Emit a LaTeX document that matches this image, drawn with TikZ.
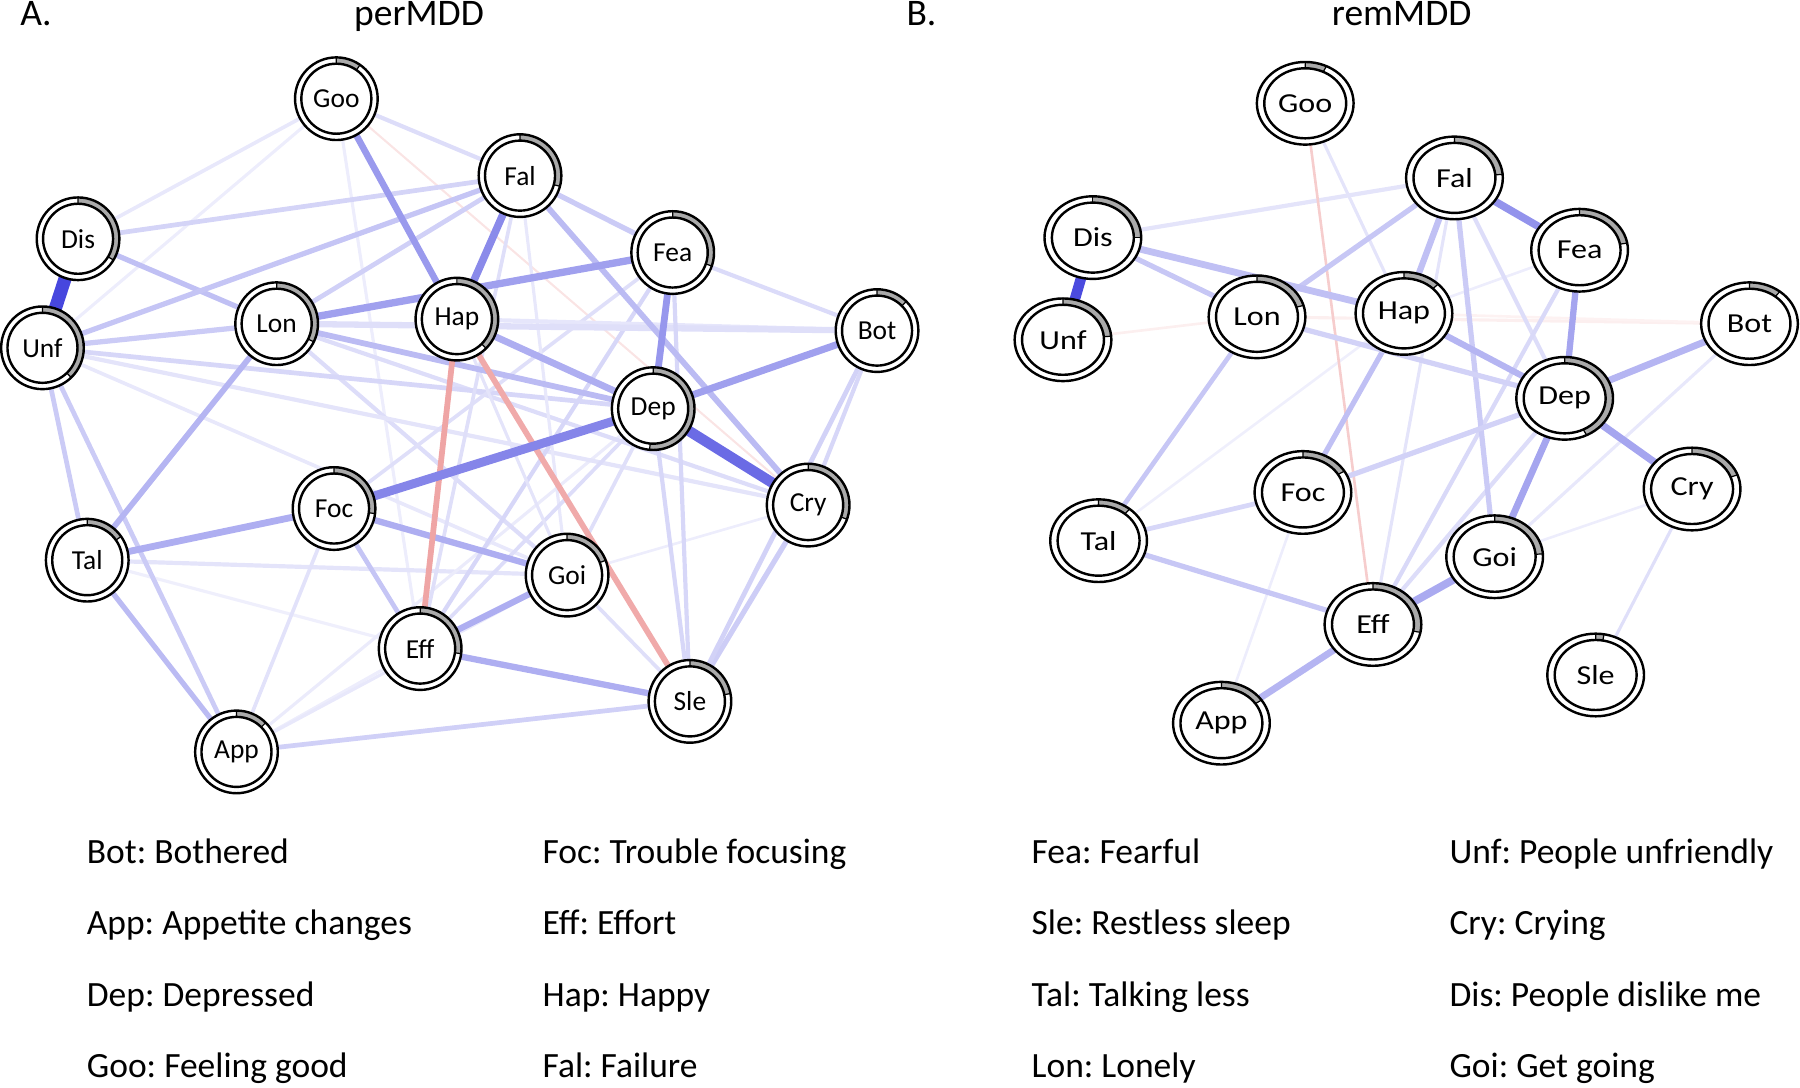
\documentclass[tikz,border=0pt]{standalone}
\usepackage{fontspec}
\setmainfont{Carlito}
\usepackage{tikz}
\usetikzlibrary{positioning,backgrounds}
\frenchspacing

\definecolor{qblue}{RGB}{30,30,215}
\definecolor{qred}{RGB}{215,30,30}
\definecolor{piegray}{RGB}{170,170,170}

\tikzset{
  ed/.style 2 args={draw=qblue!#1!white,line width={1.3*#2pt}},
  ng/.style 2 args={draw=qred!#1!white,line width={1.3*#2pt}},
  ringline/.style={draw=black,line width=0.6pt},
  symlabel/.style={inner sep=0pt,font=\fontsize{6.8}{8}\selectfont},
  legtext/.style={anchor=base west,inner sep=0pt,font=\fontsize{8.8}{10}\selectfont},
  paneltitle/.style={anchor=base,inner sep=0pt,font=\fontsize{9.3}{11}\selectfont}
}

% symptom node: name, x, y, label, pie angle, xscale
\newcommand{\symnode}[6]{%
  \begin{scope}[shift={(#2,#3)},xscale=#6]
    \fill[white] (0,0) circle (36);
    \fill[piegray] (0,0) -- (-90:36) arc[start angle=-90,end angle=-90+#5,radius=36] -- cycle;
    \fill[white] (0,0) circle (30.5);
    \draw[ringline] (0,0) circle (36) (0,0) circle (30.5);
    \draw[ringline,line width=0.3pt] (-90:30.5) -- (-90:36) (-90+#5:30.5) -- (-90+#5:36);
  \end{scope}
  \node[symlabel] (#1) at (#2,#3) {\scalebox{#6}[1]{#4}};
}

\begin{document}
\begin{tikzpicture}[x=0.1mm,y=-0.1mm]
\useasboundingbox (0,0) rectangle (1568,947);

% titles
\node[paneltitle,anchor=base west] (ta) at (17,22) {A.};
\node[paneltitle] (tperm) at (365,22) {perMDD};
\node[paneltitle,anchor=base west] (tb) at (789,22) {B.};
\node[paneltitle] (trem) at (1221,22) {remMDD};

% A: perMDD nodes
\symnode{aGoo}{293}{86}{Goo}{35}{1}
\symnode{aFal}{453}{153}{Fal}{105}{1}
\symnode{aDis}{68}{208}{Dis}{121}{1}
\symnode{aFea}{586}{220}{Fea}{109}{1}
\symnode{aUnf}{37}{303}{Unf}{136}{1}
\symnode{aLon}{241}{282}{Lon}{116}{1}
\symnode{aHap}{398}{278}{Hap}{135}{1}
\symnode{aBot}{764}{288}{Bot}{45}{1}
\symnode{aDep}{569}{356}{Dep}{185}{1}
\symnode{aFoc}{291}{443}{Foc}{97}{1}
\symnode{aCry}{704}{440}{Cry}{110}{1}
\symnode{aTal}{76}{488}{Tal}{55}{1}
\symnode{aGoi}{494}{501}{Goi}{69}{1}
\symnode{aEff}{366}{565}{Eff}{97}{1}
\symnode{aSle}{601}{611}{Sle}{79}{1}
\symnode{aApp}{206}{655}{App}{45}{1}

% B: remMDD nodes
\symnode{bGoo}{1137}{90}{Goo}{26}{1.17}
\symnode{bFal}{1267}{155}{Fal}{85}{1.17}
\symnode{bDis}{952}{207}{Dis}{90}{1.17}
\symnode{bFea}{1376}{218}{Fea}{80}{1.17}
\symnode{bUnf}{926}{296}{Unf}{85}{1.17}
\symnode{bLon}{1095}{276}{Lon}{74}{1.17}
\symnode{bHap}{1223}{273}{Hap}{45}{1.17}
\symnode{bBot}{1524}{282}{Bot}{39}{1.17}
\symnode{bDep}{1363}{347}{Dep}{153}{1.17}
\symnode{bFoc}{1135}{429}{Foc}{59}{1.17}
\symnode{bCry}{1474}{426}{Cry}{70}{1.17}
\symnode{bTal}{957}{471}{Tal}{40}{1.17}
\symnode{bGoi}{1302}{485}{Goi}{86}{1.17}
\symnode{bEff}{1196}{544}{Eff}{101}{1.17}
\symnode{bSle}{1390}{588}{Sle}{10}{1.17}
\symnode{bApp}{1064}{630}{App}{56}{1.17}

\begin{scope}[on background layer]
% A: faint edges
\draw[ed={10}{0.7}] (aGoo.center) -- (aDis.center);
\draw[ed={8}{0.6}] (aGoo.center) -- (aUnf.center);
\draw[ed={8}{0.6}] (aGoo.center) -- (aEff.center);
\draw[ed={15}{0.8}] (aGoo.center) -- (aFal.center);
\draw[ng={12}{0.4}] (aGoo.center) -- (aCry.center);
\draw[ed={12}{0.8}] (aTal.center) -- (aGoi.center);
\draw[ed={7}{0.6}] (aTal.center) -- (aEff.center);
\draw[ed={13}{0.7}] (aFoc.center) -- (aApp.center);
\draw[ed={8}{0.6}] (aApp.center) -- (aEff.center);
\draw[ed={10}{0.6}] (aApp.center) -- (aGoi.center);
\draw[ed={9}{0.6}] (aApp.center) -- (aDep.center);
\draw[ed={14}{0.7}] (aGoi.center) -- (aSle.center);
\draw[ed={8}{0.5}] (aCry.center) -- (aGoi.center);
\draw[ed={15}{0.8}] (aLon.center) -- (aGoi.center);
\draw[ed={15}{0.8}] (aLon.center) -- (aCry.center);
\draw[ed={18}{0.9}] (aUnf.center) -- (aDep.center);
\draw[ed={12}{0.8}] (aUnf.center) -- (aCry.center);
\draw[ed={10}{0.7}] (aUnf.center) -- (aGoi.center);
\draw[ed={18}{0.8}] (aFea.center) -- (aEff.center);
\draw[ed={14}{0.7}] (aFea.center) -- (aFoc.center);
\draw[ed={14}{0.7}] (aFal.center) -- (aEff.center);
\draw[ed={10}{0.6}] (aFal.center) -- (aGoi.center);
\draw[ed={14}{0.7}] (aDep.center) -- (aGoi.center);
\draw[ed={15}{0.7}] (aDep.center) -- (aEff.center);
\draw[ed={12}{0.6}] (aHap.center) -- (aGoi.center);
\draw[ed={11}{0.8}] (aHap.center) -- (aBot.center);
\draw[ed={14}{1.2}] (aLon.center) -- (aBot.center);
\draw[ed={16}{0.8}] (aFea.center) -- (aBot.center);
% A: light edges
\draw[ed={28}{1.0}] (aDis.center) -- (aLon.center);
\draw[ed={26}{1.0}] (aUnf.center) -- (aFal.center);
\draw[ed={23}{1.0}] (aUnf.center) -- (aLon.center);
\draw[ed={23}{1.0}] (aFal.center) -- (aFea.center);
\draw[ed={21}{0.9}] (aFal.center) -- (aLon.center);
\draw[ed={19}{0.9}] (aDis.center) -- (aFal.center);
\draw[ed={23}{0.9}] (aUnf.center) -- (aTal.center);
\draw[ed={23}{0.9}] (aUnf.center) -- (aApp.center);
\draw[ed={21}{0.9}] (aApp.center) -- (aSle.center);
\draw[ed={26}{0.9}] (aFoc.center) -- (aEff.center);
\draw[ed={22}{1.0}] (aCry.center) -- (aSle.center);
\draw[ed={20}{0.9}] (aBot.center) -- (aSle.center);
\draw[ed={18}{0.8}] (aBot.center) -- (aCry.center);
\draw[ed={18}{0.8}] (aDep.center) -- (aSle.center);
\draw[ed={18}{0.8}] (aFea.center) -- (aSle.center);
% A: strong edges
\draw[ed={33}{1.1}] (aLon.center) -- (aTal.center);
\draw[ed={30}{1.1}] (aLon.center) -- (aDep.center);
\draw[ed={30}{1.1}] (aFal.center) -- (aCry.center);
\draw[ed={30}{1.0}] (aTal.center) -- (aApp.center);
\draw[ed={36}{1.3}] (aHap.center) -- (aDep.center);
\draw[ed={36}{1.3}] (aTal.center) -- (aFoc.center);
\draw[ed={36}{1.2}] (aFoc.center) -- (aGoi.center);
\draw[ed={36}{1.2}] (aEff.center) -- (aGoi.center);
\draw[ed={36}{1.2}] (aEff.center) -- (aSle.center);
\draw[ng={40}{1.1}] (aHap.center) -- (aEff.center);
\draw[ng={38}{1.1}] (aHap.center) -- (aSle.center);
\draw[ed={45}{1.25}] (aGoo.center) -- (aHap.center);
\draw[ed={46}{1.3}] (aFea.center) -- (aDep.center);
\draw[ed={42}{1.35}] (aDep.center) -- (aBot.center);
\draw[ed={42}{1.4}] (aLon.center) -- (aFea.center);
\draw[ed={52}{1.45}] (aFal.center) -- (aHap.center);
\draw[ed={54}{1.7}] (aFoc.center) -- (aDep.center);
\draw[ed={66}{2.0}] (aDep.center) -- (aCry.center);
\draw[ed={82}{2.5}] (aDis.center) -- (aUnf.center);

% B: faint edges
\draw[ed={8}{0.5}] (bFoc.center) -- (bApp.center);
\draw[ed={8}{0.5}] (bGoi.center) -- (bCry.center);
\draw[ed={10}{0.6}] (bGoi.center) -- (bBot.center);
\draw[ed={7}{0.5}] (bTal.center) -- (bHap.center);
\draw[ed={8}{0.5}] (bFea.center) -- (bHap.center);
\draw[ng={7}{0.5}] (bUnf.center) -- (bLon.center);
\draw[ng={7}{0.6}] (bLon.center) -- (bBot.center);
\draw[ng={6}{0.5}] (bHap.center) -- (bBot.center);
\draw[ed={12}{0.6}] (bGoo.center) -- (bHap.center);
\draw[ed={12}{0.8}] (bFal.center) -- (bDis.center);
\draw[ed={15}{0.8}] (bFal.center) -- (bDep.center);
\draw[ed={12}{0.6}] (bFal.center) -- (bEff.center);
\draw[ed={15}{0.8}] (bEff.center) -- (bDep.center);
\draw[ed={17}{0.8}] (bEff.center) -- (bFea.center);
\draw[ed={14}{0.6}] (bCry.center) -- (bSle.center);
\draw[ng={22}{0.5}] (bGoo.center) -- (bEff.center);
% B: light edges
\draw[ed={25}{1.0}] (bDis.center) -- (bLon.center);
\draw[ed={25}{1.0}] (bFal.center) -- (bLon.center);
\draw[ed={23}{1.0}] (bFal.center) -- (bGoi.center);
\draw[ed={28}{1.0}] (bHap.center) -- (bFoc.center);
\draw[ed={25}{0.9}] (bLon.center) -- (bTal.center);
\draw[ed={20}{1.0}] (bLon.center) -- (bDep.center);
\draw[ed={18}{0.9}] (bTal.center) -- (bFoc.center);
\draw[ed={25}{1.0}] (bTal.center) -- (bEff.center);
\draw[ed={20}{1.0}] (bFoc.center) -- (bDep.center);
% B: strong edges
\draw[ed={28}{1.3}] (bDis.center) -- (bHap.center);
\draw[ed={28}{1.2}] (bFal.center) -- (bHap.center);
\draw[ed={33}{1.2}] (bHap.center) -- (bDep.center);
\draw[ed={33}{1.3}] (bDep.center) -- (bBot.center);
\draw[ed={33}{1.3}] (bEff.center) -- (bApp.center);
\draw[ed={38}{1.5}] (bGoi.center) -- (bEff.center);
\draw[ed={40}{1.3}] (bDep.center) -- (bGoi.center);
\draw[ed={40}{1.2}] (bFea.center) -- (bDep.center);
\draw[ed={40}{1.4}] (bDep.center) -- (bCry.center);
\draw[ed={48}{1.45}] (bFal.center) -- (bFea.center);
\draw[ed={80}{2.0}] (bDis.center) -- (bUnf.center);
\end{scope}

% legend
\node[legtext] (lBot) at (75,752) {Bot: Bothered};
\node[legtext] (lApp) at (75,814) {App: Appetite changes};
\node[legtext] (lDep) at (75,877) {Dep: Depressed};
\node[legtext] (lGoo) at (75,939) {Goo: Feeling good};
\node[legtext] (lFoc) at (472,752) {Foc: Trouble focusing};
\node[legtext] (lEff) at (472,814) {Eff: Effort};
\node[legtext] (lHap) at (472,877) {Hap: Happy};
\node[legtext] (lFal) at (472,939) {Fal: Failure};
\node[legtext] (lFea) at (898,752) {Fea: Fearful};
\node[legtext] (lSle) at (898,814) {Sle: Restless sleep};
\node[legtext] (lTal) at (898,877) {Tal: Talking less};
\node[legtext] (lLon) at (898,939) {Lon: Lonely};
\node[legtext] (lUnf) at (1262,752) {Unf: People unfriendly};
\node[legtext] (lCry) at (1262,814) {Cry: Crying};
\node[legtext] (lDis) at (1262,877) {Dis: People dislike me};
\node[legtext] (lGoi) at (1262,939) {Goi: Get going};
\end{tikzpicture}
\end{document}
